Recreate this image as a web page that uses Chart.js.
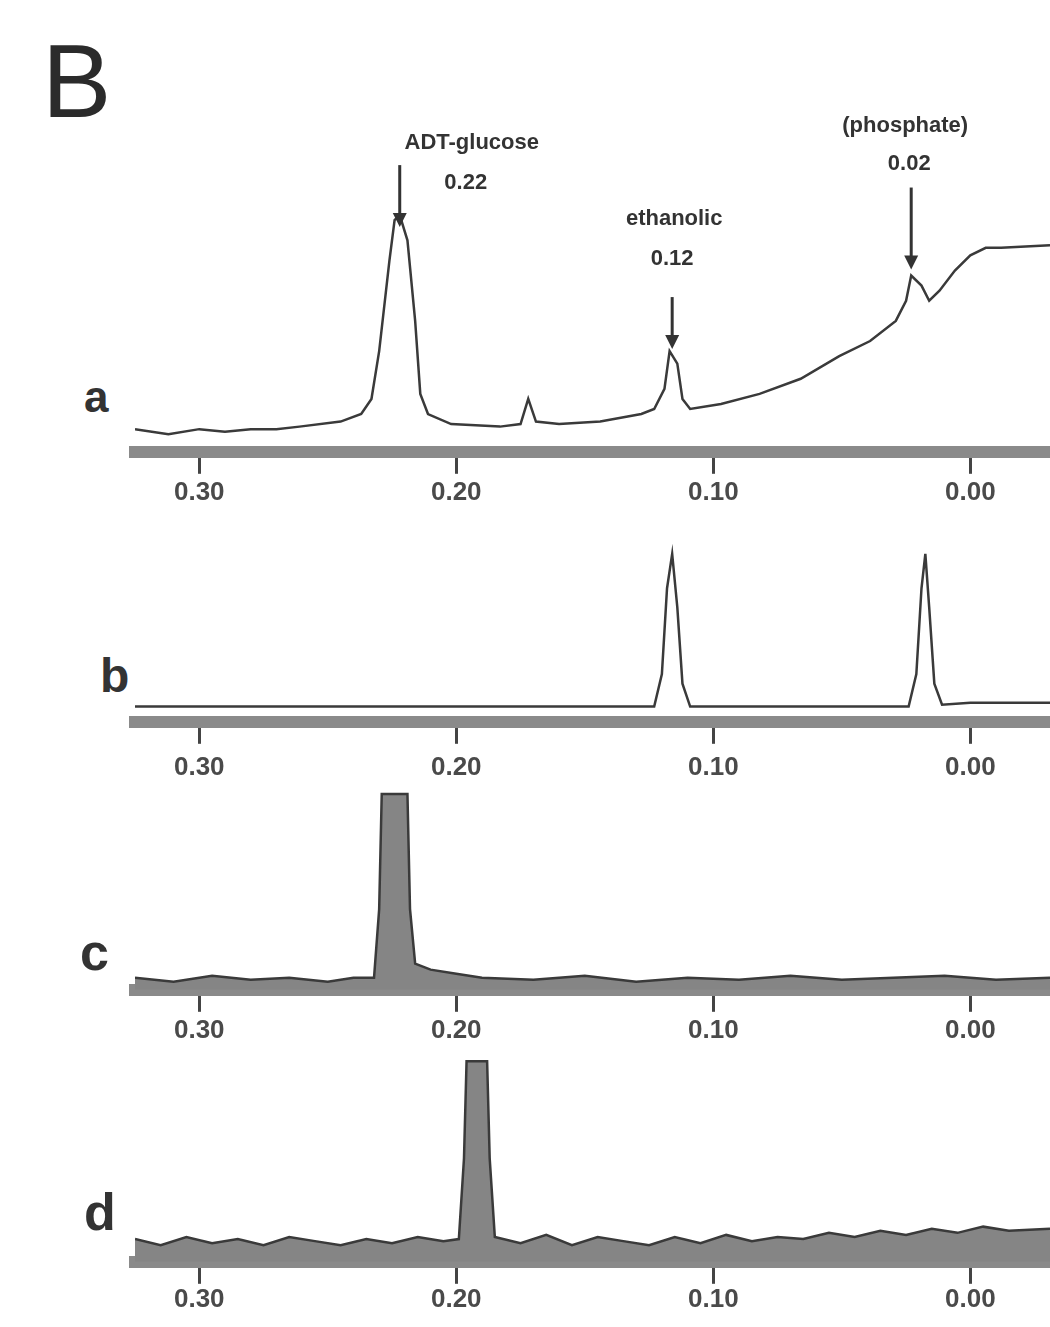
<!DOCTYPE html>
<html>
<head>
<meta charset="utf-8">
<script src="https://cdn.jsdelivr.net/npm/chart.js@4.4.1/dist/chart.umd.min.js"></script>
<style>
  body { margin: 0; background: #fff; width: 1050px; height: 1327px; overflow: hidden; position: relative; font-family: "Liberation Sans", Arial, sans-serif; }
  canvas { position: absolute; left: 0; }
  .lbl { position: absolute; color: #333; font-weight: bold; }
</style>
</head>
<body>
<div class="lbl" style="left:42px;top:22px;font-size:104px;font-weight:normal;color:#2b2b2b;">B</div>
<div class="lbl" style="left:84px;top:372px;font-size:44px;">a</div>
<div class="lbl" style="left:100px;top:648px;font-size:48px;">b</div>
<div class="lbl" style="left:80px;top:922px;font-size:52px;">c</div>
<div class="lbl" style="left:84px;top:1182px;font-size:52px;">d</div>

<canvas id="chartA" width="1050" height="410" style="top:106px"></canvas>
<canvas id="chartB" width="1050" height="270" style="top:526px"></canvas>
<canvas id="chartC" width="1050" height="266" style="top:788px"></canvas>
<canvas id="chartD" width="1050" height="270" style="top:1050px"></canvas>

<script>
// chemical shift ticks (ppm), axis runs right to left
const tickValues = [0.30, 0.20, 0.10, 0.00];

// spectrum a: mixture
const ppmA = [0.325, 0.312, 0.300, 0.290, 0.280, 0.270, 0.261, 0.245, 0.237, 0.233, 0.230, 0.226, 0.224, 0.222, 0.219, 0.216, 0.214, 0.211, 0.202, 0.183, 0.175, 0.172, 0.169, 0.160, 0.144, 0.128, 0.123, 0.119, 0.117, 0.114, 0.112, 0.109, 0.097, 0.082, 0.066, 0.051, 0.039, 0.029, 0.025, 0.023, 0.019, 0.016, 0.012, 0.006, 0.000, -0.006, -0.012, -0.031];
const intA = [9, 7, 9, 8, 9, 9, 10, 12, 15, 21, 40, 76, 92, 94, 84, 52, 23, 15, 11, 10, 11, 21, 12, 11, 12, 15, 17, 25, 40, 35, 21, 17, 19, 23, 29, 38, 44, 52, 60, 70, 66, 60, 64, 72, 78, 81, 81, 82];

// spectrum b
const ppmB = [0.325, 0.250, 0.180, 0.123, 0.120, 0.118, 0.116, 0.114, 0.112, 0.109, 0.060, 0.024, 0.021, 0.019, 0.0175, 0.016, 0.014, 0.011, 0.000, -0.031];
const intB = [8, 8, 8, 8, 25, 70, 88, 60, 20, 8, 8, 8, 25, 70, 88, 60, 20, 9, 10, 10];

// spectrum c
const ppmC = [0.325, 0.310, 0.295, 0.280, 0.265, 0.250, 0.240, 0.232, 0.230, 0.229, 0.219, 0.218, 0.216, 0.210, 0.200, 0.190, 0.170, 0.150, 0.130, 0.110, 0.090, 0.070, 0.050, 0.030, 0.010, -0.010, -0.031];
const intC = [6, 4, 7, 5, 6, 4, 6, 6, 40, 97, 97, 40, 13, 10, 8, 6, 5, 7, 4, 6, 5, 7, 5, 6, 7, 5, 6];

// spectrum d
const ppmD = [0.325, 0.315, 0.305, 0.295, 0.285, 0.275, 0.265, 0.255, 0.245, 0.235, 0.225, 0.215, 0.205, 0.199, 0.197, 0.196, 0.188, 0.187, 0.185, 0.175, 0.165, 0.155, 0.145, 0.135, 0.125, 0.115, 0.105, 0.095, 0.085, 0.075, 0.065, 0.055, 0.045, 0.035, 0.025, 0.015, 0.005, -0.005, -0.015, -0.031];
const intD = [11, 8, 12, 9, 11, 8, 12, 10, 8, 11, 9, 12, 10, 11, 50, 97, 97, 50, 12, 9, 13, 8, 12, 10, 8, 12, 9, 13, 10, 12, 11, 14, 12, 15, 13, 16, 14, 17, 15, 16];

// peak assignments in spectrum a
const peakPpm = [0.222, 0.116, 0.023];
const peakTop = [94, 40, 70];
const peakNames = ['ADT-glucose', 'ethanolic', '(phosphate)'];
const peakShifts = ['0.22', '0.12', '0.02'];

const peakNotes = {
  id: 'peakNotes',
  afterDatasetsDraw(chart, args, opts) {
    if (!opts.items) return;
    const ctx = chart.ctx;
    const xs = chart.scales.x, ys = chart.scales.y;
    ctx.save();
    ctx.fillStyle = '#333';
    ctx.strokeStyle = '#333';
    ctx.textAlign = 'center';
    ctx.textBaseline = 'middle';
    opts.items.forEach((it, i) => {
      const x = xs.getPixelForValue(peakPpm[i]);
      const tip = ys.getPixelForValue(peakTop[i]) - it.gap;
      const tail = tip - it.len;
      ctx.lineWidth = 3;
      ctx.beginPath();
      ctx.moveTo(x, tail);
      ctx.lineTo(x, tip - 10);
      ctx.stroke();
      ctx.beginPath();
      ctx.moveTo(x - 7, tip - 14);
      ctx.lineTo(x + 7, tip - 14);
      ctx.lineTo(x, tip);
      ctx.closePath();
      ctx.fill();
      ctx.font = 'bold 22px "Liberation Sans", Arial';
      ctx.fillText(peakNames[i], x + it.nameDx, tail + it.nameDy);
      ctx.fillText(peakShifts[i], x + it.shiftDx, tail + it.shiftDy);
    });
    ctx.restore();
  }
};

function makeSpectrum(id, ppm, vals, cfg) {
  const pts = ppm.map((p, i) => ({x: p, y: vals[i]}));
  return new Chart(document.getElementById(id), {
    type: 'line',
    data: {
      datasets: [{
        data: pts,
        borderColor: '#3a3a3a',
        borderWidth: 2.5,
        pointRadius: 0,
        tension: 0,
        fill: cfg.fill ? 'origin' : false,
        backgroundColor: '#858585'
      }]
    },
    options: {
      responsive: false,
      animation: false,
      layout: { padding: { left: 135, right: 0, top: cfg.padTop, bottom: 5 } },
      plugins: {
        legend: { display: false },
        tooltip: { enabled: false },
        peakNotes: { items: cfg.notes }
      },
      scales: {
        x: {
          type: 'linear',
          reverse: true,
          min: -0.031,
          max: 0.325,
          border: { display: true, width: 12, color: '#8a8a8a' },
          grid: { display: true, drawOnChartArea: false, drawTicks: true, tickLength: 22, color: '#444', lineWidth: 3 },
          afterBuildTicks: s => { s.ticks = tickValues.map(v => ({value: v})); },
          ticks: {
            autoSkip: false,
            maxRotation: 0,
            padding: cfg.tickPad,
            color: '#4a4a4a',
            font: { family: '"Liberation Sans", Arial', size: 26, weight: 'bold' },
            callback: v => v.toFixed(2)
          }
        },
        y: { display: false, min: 0, max: 100 }
      }
    },
    plugins: [peakNotes]
  });
}

makeSpectrum('chartA', ppmA, intA, {
  padTop: 94, tickPad: 3, fill: false,
  notes: [
    { gap: -12, len: 62, nameDx: 72, nameDy: -22, shiftDx: 66, shiftDy: 18 },
    { gap: 2, len: 52, nameDx: 2, nameDy: -78, shiftDx: 0, shiftDy: -38 },
    { gap: 6, len: 82, nameDx: -6, nameDy: -62, shiftDx: -2, shiftDy: -24 }
  ]
});
makeSpectrum('chartB', ppmB, intB, { padTop: 5, tickPad: 8, fill: false });
makeSpectrum('chartC', ppmC, intC, { padTop: 0, tickPad: 3, fill: true });
makeSpectrum('chartD', ppmD, intD, { padTop: 5, tickPad: 0, fill: true });
</script>
</body>
</html>
